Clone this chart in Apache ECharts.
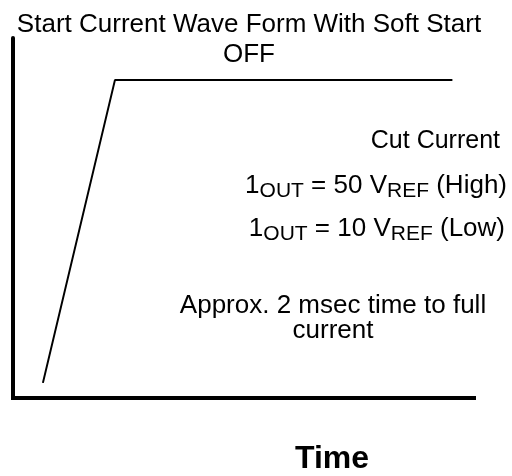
<!DOCTYPE html>
<html>
<head>
<meta charset="utf-8">
<script src="https://cdn.jsdelivr.net/npm/echarts@6/dist/echarts.min.js"></script>
<style>
  html, body { margin: 0; padding: 0; background: #fff; }
  #chart { width: 512px; height: 476px; }
</style>
</head>
<body>
<div id="chart"></div>
<script>
// time in msec, current in % of full
const timeMs = [0.83, 2.83, 12.2]
const currentPct = [4.2, 88.3, 88.3]
const timeMax = 12.8
const currentMax = 100

const titleLines = ['Start Current Wave Form With Soft Start', 'OFF']
const noteLines = ['Approx. 2 msec time to full', 'current']

const chart = echarts.init(document.getElementById('chart'))
const font = 'Liberation Sans, Arial, sans-serif'

const subRich = {
    n: { fontSize: 26, lineHeight: 32, fontFamily: font, color: '#000', verticalAlign: 'middle' },
    s: { fontSize: 21, lineHeight: 21, fontFamily: font, color: '#000', verticalAlign: 'bottom' },
}

const option = {
    animation: false,
    grid: { left: 13, right: 38, top: 38, bottom: 78 },
    xAxis: {
        type: 'value',
        min: 0,
        max: timeMax,
        axisLine: { show: true, lineStyle: { color: '#000', width: 4, cap: 'square' } },
        axisTick: { show: false },
        axisLabel: { show: false },
        splitLine: { show: false },
    },
    yAxis: {
        type: 'value',
        min: 0,
        max: currentMax,
        axisLine: { show: true, lineStyle: { color: '#000', width: 4 } },
        axisTick: { show: false },
        axisLabel: { show: false },
        splitLine: { show: false },
    },
    series: [
        {
            type: 'line',
            data: timeMs.map((t, i) => [t, currentPct[i]]),
            symbol: 'none',
            lineStyle: { color: '#000', width: 2 },
        },
    ],
    graphic: [
        {
            type: 'text', x: 249, y: 40,
            style: {
                text: titleLines.join('\n'), font: '26px ' + font, fill: '#000',
                textAlign: 'center', textVerticalAlign: 'middle', lineHeight: 30,
            },
        },
        {
            type: 'text', x: 500, y: 141,
            style: { text: 'Cut Current', font: '25px ' + font, fill: '#000', textAlign: 'right', textVerticalAlign: 'middle' },
        },
        {
            type: 'text', x: 507, y: 186,
            style: {
                text: '{n|1}{s|OUT}{n| = 50 V}{s|REF}{n| (High)}', rich: subRich,
                textAlign: 'right', textVerticalAlign: 'middle',
            },
        },
        {
            type: 'text', x: 505, y: 229,
            style: {
                text: '{n|1}{s|OUT}{n| = 10 V}{s|REF}{n| (Low)}', rich: subRich,
                textAlign: 'right', textVerticalAlign: 'middle',
            },
        },
        {
            type: 'text', x: 333, y: 318,
            style: {
                text: noteLines.join('\n'), font: '26px ' + font, fill: '#000',
                textAlign: 'center', textVerticalAlign: 'middle', lineHeight: 25,
            },
        },
        {
            type: 'text', x: 332, y: 459,
            style: { text: 'Time', font: 'bold 32px ' + font, fill: '#000', textAlign: 'center', textVerticalAlign: 'middle' },
        },
    ],
}

chart.setOption(option)
</script>
</body>
</html>
